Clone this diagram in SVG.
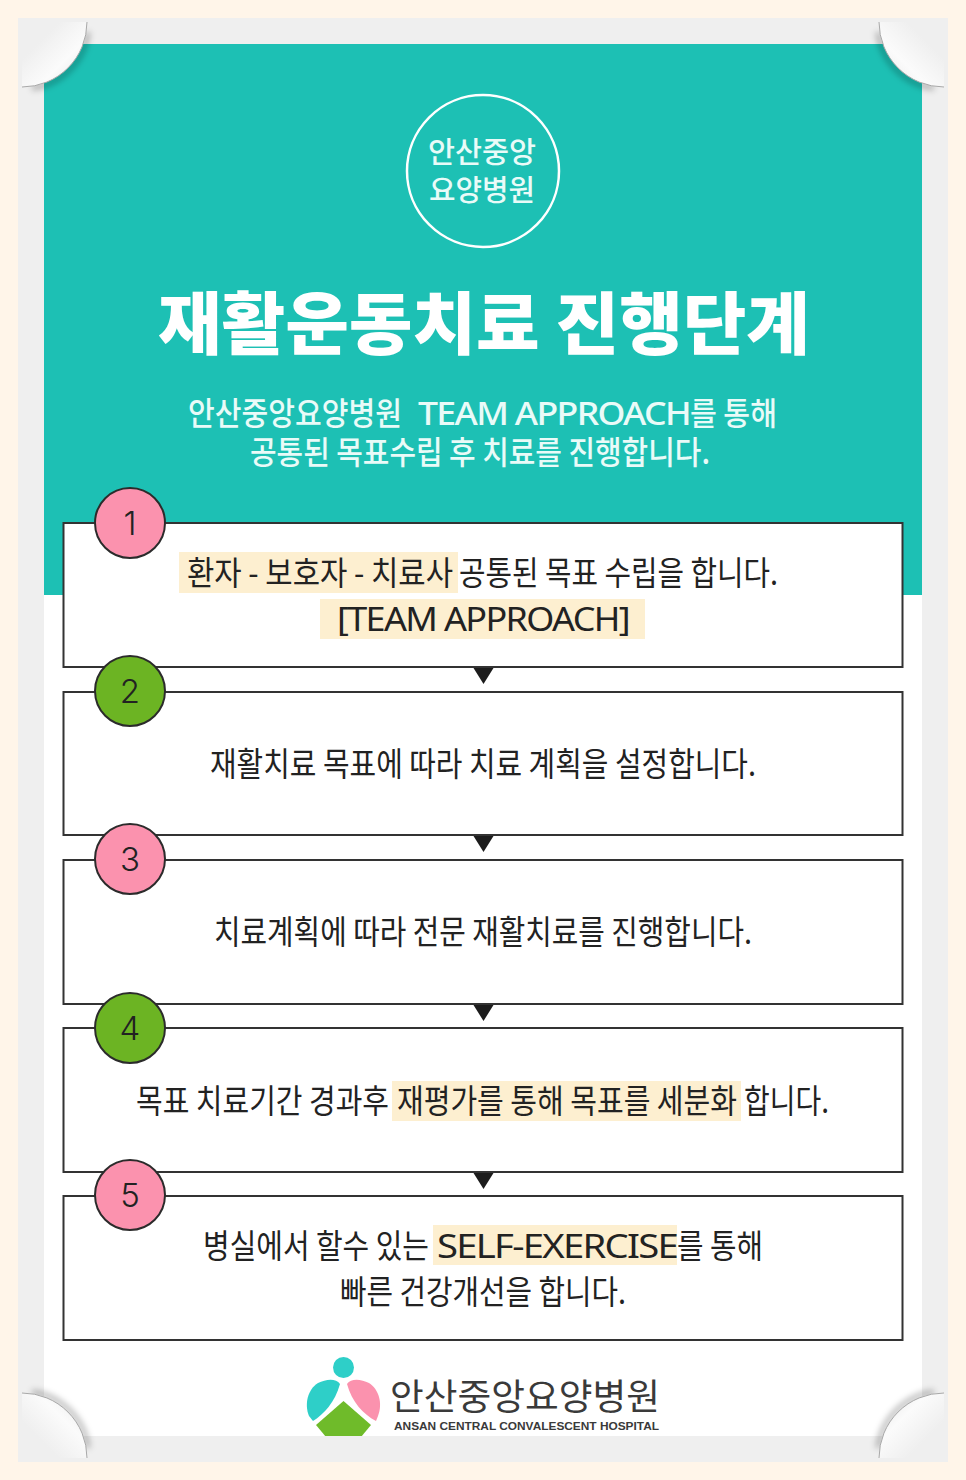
<svg xmlns="http://www.w3.org/2000/svg" width="966" height="1480" viewBox="0 0 966 1480">
<style>
text{font-family:"Noto Sans CJK KR","Noto Sans",sans-serif;text-anchor:start}
.w{fill:#fff}
.t{fill:#222;font-size:33px;font-weight:400}
.s{fill:#e9fbf8;font-size:32px;font-weight:500}
.lat{letter-spacing:-1.500px;font-family:"Noto Sans",sans-serif}
.box{fill:#fff;stroke:#333;stroke-width:2}
.hl{fill:#fdefd0}
.pink{fill:#fb92ae;stroke:#2b2b2b;stroke-width:2}
.green{fill:#6cb423;stroke:#2b2b2b;stroke-width:2}
.n{font-family:Inter,Roboto,sans-serif;font-size:33px;fill:#222;text-anchor:middle;font-weight:300}
.arrow{fill:#1c1c1c}
.curl{stroke:none}
.edge{fill:none;stroke:#a8a8a8;stroke-width:1}
.shadow{fill:none;stroke:#000;stroke-opacity:.28;stroke-width:5}
</style>
<defs>
<linearGradient id="curlG" gradientUnits="userSpaceOnUse" x1="0" y1="0" x2="46" y2="46">
<stop offset=".4" stop-color="#efefef"/><stop offset=".88" stop-color="#fbfbfb"/><stop offset="1" stop-color="#f6f6f6"/>
</linearGradient>
<filter id="blur" x="-30%" y="-30%" width="160%" height="160%"><feGaussianBlur stdDeviation="3"/></filter>
<clipPath id="logoClip"><rect x="300" y="1350" width="90" height="86"/></clipPath>
<g id="curl">
<path class="shadow" d="M64 8 A65 65 0 0 1 8 64" transform="translate(2 2)" filter="url(#blur)"/>
<path class="curl" d="M0 0H65A65 65 0 0 1 0 65Z" fill="url(#curlG)"/>
<path class="edge" d="M65 0A65 65 0 0 1 0 65"/>
</g>
</defs>
<rect width="966" height="1480" fill="#fff5e9"/>
<rect x="18" y="18" width="930" height="1444" fill="#efefef"/>
<rect x="44" y="44" width="878" height="1392" fill="#fff"/>
<rect x="44" y="44" width="878" height="551" fill="#1dc0b4"/>
<use href="#curl" transform="translate(22 22)"/>
<use href="#curl" transform="translate(944 22) scale(-1 1)"/>
<use href="#curl" transform="translate(22 1458) scale(1 -1)"/>
<use href="#curl" transform="translate(944 1458) scale(-1 -1)"/>

<g id="badge">
<circle cx="483" cy="171" r="76" fill="none" stroke="#fff" stroke-width="2.500"/>
<text class="s" x="428" y="163" style="font-size:29px" textLength="108" lengthAdjust="spacingAndGlyphs">안산중앙</text>
<text class="s" x="429" y="201" style="font-size:29px" textLength="106" lengthAdjust="spacingAndGlyphs">요양병원</text>
</g>
<g id="title">
<text class="w" x="158" y="349" style="font-size:68px;font-weight:900" textLength="652" lengthAdjust="spacingAndGlyphs">재활운동치료 진행단계</text>
<text class="s" x="188" y="425" textLength="214" lengthAdjust="spacingAndGlyphs">안산중앙요양병원</text>
<text class="s lat" x="418" y="425" textLength="272" lengthAdjust="spacingAndGlyphs">TEAM APPROACH</text>
<text class="s" x="690" y="425" textLength="87" lengthAdjust="spacingAndGlyphs">를 통해</text>
<text class="s" x="250" y="464" textLength="460" lengthAdjust="spacingAndGlyphs">공통된 목표수립 후 치료를 진행합니다.</text>
</g>

<g id="step1">
<rect class="box" x="63.500" y="523" width="839" height="144"/>
<rect class="hl" x="179" y="552" width="279" height="41"/>
<rect class="hl" x="320" y="599" width="325" height="40"/>
<text class="t" x="187" y="585" textLength="266" lengthAdjust="spacingAndGlyphs">환자 - 보호자 - 치료사</text>
<text class="t" x="459" y="585" textLength="319" lengthAdjust="spacingAndGlyphs">공통된 목표 수립을 합니다.</text>
<text class="t lat" x="337" y="631" textLength="292" lengthAdjust="spacingAndGlyphs">[TEAM APPROACH]</text>
<circle class="pink" cx="130" cy="523" r="35"/>
<text class="n" x="130" y="535">1</text>
</g>
<g id="step2">
<rect class="box" x="63.500" y="692" width="839" height="143"/>
<text class="t" x="210" y="776" textLength="546" lengthAdjust="spacingAndGlyphs">재활치료 목표에 따라 치료 계획을 설정합니다.</text>
<circle class="green" cx="130" cy="691" r="35"/>
<text class="n" x="130" y="703">2</text>
</g>
<g id="step3">
<rect class="box" x="63.500" y="860" width="839" height="144"/>
<text class="t" x="214" y="944" textLength="538" lengthAdjust="spacingAndGlyphs">치료계획에 따라 전문 재활치료를 진행합니다.</text>
<circle class="pink" cx="130" cy="859" r="35"/>
<text class="n" x="130" y="871">3</text>
</g>
<g id="step4">
<rect class="box" x="63.500" y="1028" width="839" height="144"/>
<rect class="hl" x="392" y="1081" width="349" height="40"/>
<text class="t" x="136" y="1113" textLength="253" lengthAdjust="spacingAndGlyphs">목표 치료기간 경과후</text>
<text class="t" x="397" y="1113" textLength="340" lengthAdjust="spacingAndGlyphs">재평가를 통해 목표를 세분화</text>
<text class="t" x="744" y="1113" textLength="85" lengthAdjust="spacingAndGlyphs">합니다.</text>
<circle class="green" cx="130" cy="1028" r="35"/>
<text class="n" x="130" y="1040">4</text>
</g>
<g id="step5">
<rect class="box" x="63.500" y="1196" width="839" height="144"/>
<rect class="hl" x="433" y="1225" width="244" height="40"/>
<text class="t" x="203" y="1258" textLength="226" lengthAdjust="spacingAndGlyphs">병실에서 할수 있는</text>
<text class="t lat" x="437" y="1258" textLength="240" lengthAdjust="spacingAndGlyphs">SELF-EXERCISE</text>
<text class="t" x="677" y="1258" textLength="86" lengthAdjust="spacingAndGlyphs">를 통해</text>
<text class="t" x="340" y="1304" textLength="286" lengthAdjust="spacingAndGlyphs">빠른 건강개선을 합니다.</text>
<circle class="pink" cx="130" cy="1195" r="35"/>
<text class="n" x="130" y="1207">5</text>
</g>

<g id="connectors">
<polygon class="arrow" points="473.500,668 493.500,668 483.500,684"/>
<polygon class="arrow" points="473.500,836 493.500,836 483.500,852"/>
<polygon class="arrow" points="473.500,1005 493.500,1005 483.500,1021"/>
<polygon class="arrow" points="473.500,1173 493.500,1173 483.500,1189"/>
</g>

<g id="logo">
<g clip-path="url(#logoClip)">
<circle cx="343.500" cy="1367.500" r="10.500" fill="#2ecfc8"/>
<path d="M340 1384C336 1378 326 1379 318 1383C308 1389 304 1404 309 1416L313 1421C324 1414 335 1402 340 1384Z" fill="#2ecfc8"/>
<path d="M347 1384C351 1378 361 1379 369 1383C379 1389 383 1404 378 1416L376 1421C363 1414 352 1402 347 1384Z" fill="#fb92ae"/>
<path d="M343.500 1401L316 1425L326 1437H361L371 1425Z" fill="#6fbb2a"/>
</g>
<text x="390" y="1410" style="font-size:36px;fill:#3a3a3a;font-weight:400" textLength="270" lengthAdjust="spacingAndGlyphs">안산중앙요양병원</text>
<text x="394" y="1430" style='font-family:"Liberation Sans",sans-serif;font-size:11.500px;font-weight:700;fill:#3a3a3a' textLength="265" lengthAdjust="spacingAndGlyphs">ANSAN CENTRAL CONVALESCENT HOSPITAL</text>
</g>
</svg>
